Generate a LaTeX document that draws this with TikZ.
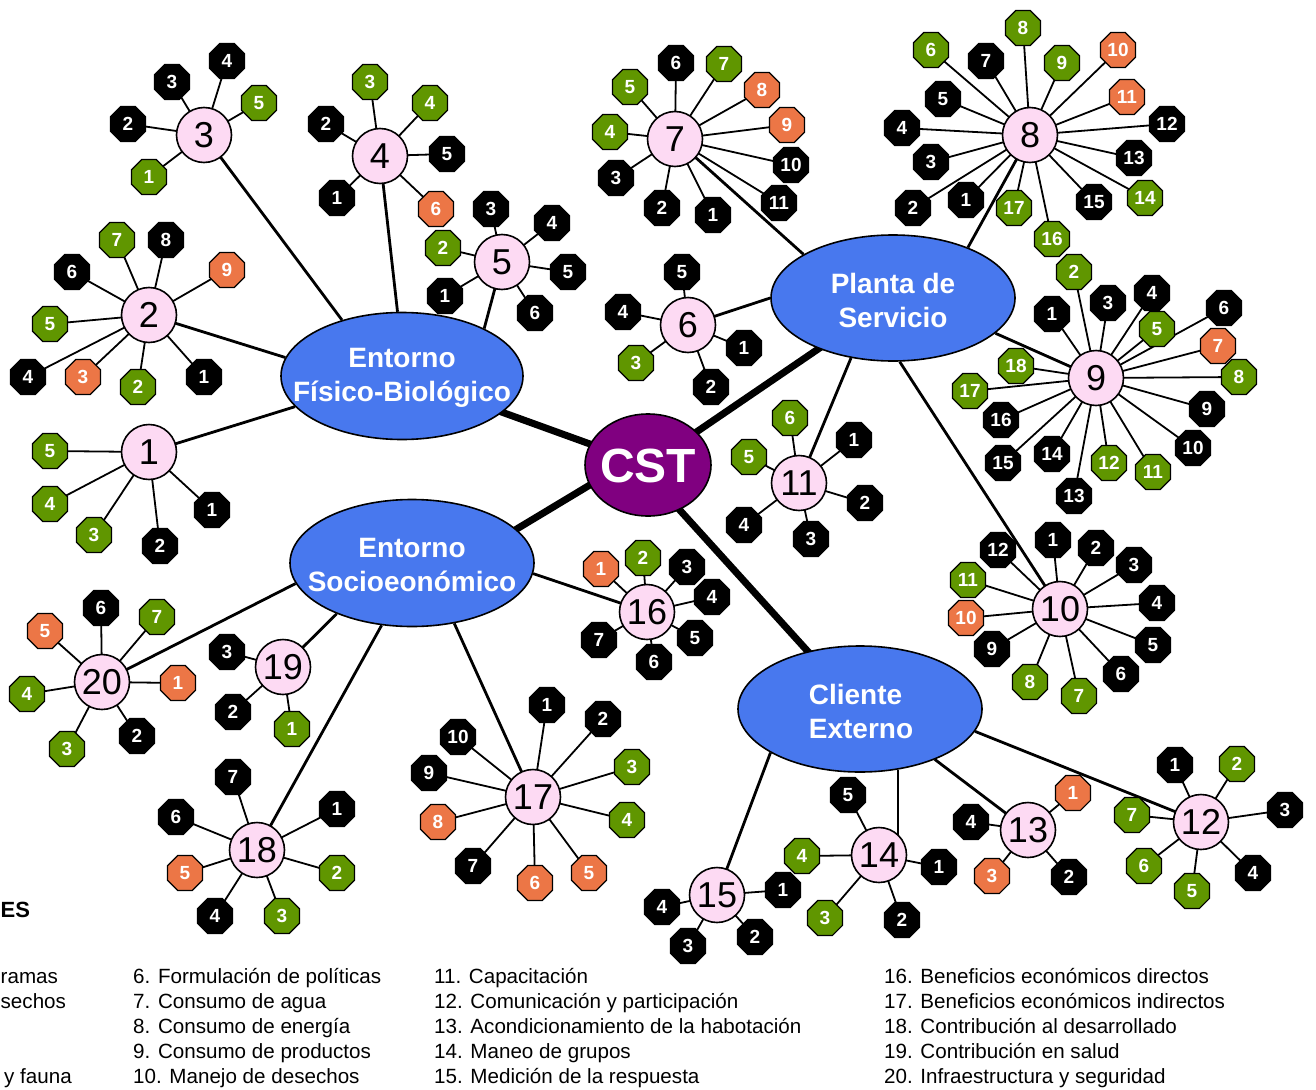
\documentclass[tikz,border=0pt]{standalone}
\usepackage{fontspec}
\setmainfont{Liberation Sans}
\usetikzlibrary{shapes.geometric,calc}
\pgfdeclarelayer{bg}
\pgfsetlayers{bg,main}
\definecolor{elblue}{RGB}{72,120,238}
\definecolor{leafgreen}{RGB}{96,150,0}
\definecolor{leaforange}{RGB}{236,118,70}
\definecolor{hubpink}{RGB}{253,218,243}
\definecolor{cstpurple}{RGB}{128,0,128}
\tikzset{
  oct/.style={regular polygon, regular polygon sides=8, minimum size=38, inner sep=0,
    draw=black, line width=1.2, text=white, font=\fontsize{19}{19}\selectfont\bfseries},
  octk/.style={oct, fill=black},
  octg/.style={oct, fill=leafgreen},
  octo/.style={oct, fill=leaforange},
  hub/.style={circle, draw=black, line width=1.6, fill=hubpink, minimum size=55, inner sep=0,
    font=\fontsize{36}{36}\selectfont},
  group/.style={ellipse, draw=black, line width=1.6, fill=elblue, inner sep=0},
  grouptext/.style={text=white, align=center, inner sep=0, font=\fontsize{28}{34}\selectfont\bfseries},
  spoke/.style={line width=1.8, black},
  link/.style={line width=2.8, black},
  heavy/.style={line width=7, black},
  legend/.style={font=\fontsize{20.6}{20.6}\selectfont, inner sep=0, anchor=base west},
}
\newcommand{\lf}[5]{%
  \node[#2] (#1-#5) at (#3,#4) {#5};
  \begin{pgfonlayer}{bg}\draw[spoke] (#1.center) -- (#1-#5.center);\end{pgfonlayer}%
}
\begin{document}
\begin{tikzpicture}[x=1pt,y=-1pt]
\useasboundingbox (0,0) rectangle (1316,1089);

% group ellipses
\node[group, minimum width=242, minimum height=127] (fb) at (402,376) {};
\node[grouptext] (fbt) at (402,378) {Entorno\\Físico-Biológico};
\node[group, minimum width=244, minimum height=126] (ps) at (893,298) {};
\node[grouptext] (pst) at (893,300) {Planta de\\Servicio};
\node[group, minimum width=244, minimum height=127] (se) at (412,563) {};
\node[grouptext] (set) at (412,565) {Entorno\\Socioeonómico};
\node[group, minimum width=244, minimum height=126] (ce) at (860,709) {};
\node[grouptext, align=left] (cet) at (861,711) {Cliente\\Externo};
\node[ellipse, draw=black, line width=1.6, fill=cstpurple, minimum width=126, minimum height=102,
  inner sep=0] (cst) at (648,465) {};
\node[text=white, inner sep=0, font=\fontsize{48}{48}\selectfont\bfseries] (cstt) at (648,466) {CST};

\begin{pgfonlayer}{bg}
\draw[heavy] (cst.center) -- (fb.center);
\draw[heavy] (cst.center) -- (ps.center);
\draw[heavy] ($(cst.center)+(0,-15)$) -- ($(se.center)+(0,29)$);
\draw[heavy] ($(cst.center)+(0,10)$) -- (ce.center);
\end{pgfonlayer}

% hubs
\node[hub] (h1) at (149,452) {1};
\node[hub] (h2) at (149,315) {2};
\node[hub] (h3) at (204,135) {3};
\node[hub] (h4) at (380,156) {4};
\node[hub] (h5) at (502,262) {5};
\node[hub] (h6) at (688,325) {6};
\node[hub] (h7) at (675,139) {7};
\node[hub] (h8) at (1030,135) {8};
\node[hub] (h9) at (1096,378) {9};
\node[hub] (h10) at (1060,609) {10};
\node[hub] (h11) at (799,483) {11};
\node[hub] (h12) at (1201,822) {12};
\node[hub] (h13) at (1028,830) {13};
\node[hub] (h14) at (879,855) {14};
\node[hub] (h15) at (717,895) {15};
\node[hub] (h16) at (647,612) {16};
\node[hub] (h17) at (533,797) {17};
\node[hub] (h18) at (257,850) {18};
\node[hub] (h19) at (283,667) {19};
\node[hub] (h20) at (102,682) {20};

\begin{pgfonlayer}{bg}
\draw[link] (h3.center) -- (fb.137);
\draw[link] (h4.center) -- (fb.94);
\draw[link] (h5.center) -- (fb.30);
\draw[link] (h2.center) -- (fb.171);
\draw[link] (h1.center) -- (fb.196);
\draw[link] (h7.center) -- (ps.154);
\draw[link] (h8.center) -- (ps.34);
\draw[link] (h9.center) -- (ps.341);
\draw[link] (h10.center) -- (ps.276);
\draw[link] (h6.center) -- (ps.180);
\draw[link] (h11.center) -- (ps.235);
\draw[link] (h16.center) -- (se.355);
\draw[link] (h17.center) -- (se.305);
\draw[link] (h18.center) -- (se.244);
\draw[link] (h19.center) -- (se.214);
\draw[link] (h20.center) -- (se.190);
\draw[link] (h15.center) -- (ce.206);
\draw[link] (ce.302) -- (ce.302 |- h14.center);
\draw[link] (h13.center) -- (ce.326);
\draw[link] (h12.center) -- (ce.349);
\end{pgfonlayer}

% leaves
\lf{h1}{octg}{50}{451}{5}
\lf{h1}{octg}{50}{504}{4}
\lf{h1}{octg}{94}{535}{3}
\lf{h1}{octk}{160}{546}{2}
\lf{h1}{octk}{212}{510}{1}

\lf{h2}{octg}{117}{240}{7}
\lf{h2}{octk}{166}{240}{8}
\lf{h2}{octk}{72}{272}{6}
\lf{h2}{octo}{227}{270}{9}
\lf{h2}{octg}{50}{324}{5}
\lf{h2}{octk}{28}{377}{4}
\lf{h2}{octo}{83}{377}{3}
\lf{h2}{octg}{138}{387}{2}
\lf{h2}{octk}{204}{377}{1}

\lf{h3}{octk}{172}{82}{3}
\lf{h3}{octk}{227}{61}{4}
\lf{h3}{octg}{259}{103}{5}
\lf{h3}{octk}{128}{124}{2}
\lf{h3}{octg}{149}{177}{1}

\lf{h4}{octg}{370}{82}{3}
\lf{h4}{octg}{430}{103}{4}
\lf{h4}{octk}{326}{124}{2}
\lf{h4}{octk}{447}{154}{5}
\lf{h4}{octk}{337}{198}{1}
\lf{h4}{octo}{436}{209}{6}

\lf{h5}{octk}{491}{209}{3}
\lf{h5}{octk}{552}{223}{4}
\lf{h5}{octg}{443}{248}{2}
\lf{h5}{octk}{568}{272}{5}
\lf{h5}{octk}{445}{296}{1}
\lf{h5}{octk}{535}{313}{6}

\lf{h6}{octk}{682}{272}{5}
\lf{h6}{octk}{623}{312}{4}
\lf{h6}{octk}{744}{348}{1}
\lf{h6}{octg}{636}{363}{3}
\lf{h6}{octk}{711}{387}{2}

\lf{h7}{octk}{676}{63}{6}
\lf{h7}{octg}{724}{64}{7}
\lf{h7}{octg}{630}{87}{5}
\lf{h7}{octo}{762}{90}{8}
\lf{h7}{octg}{610}{132}{4}
\lf{h7}{octo}{787}{125}{9}
\lf{h7}{octk}{791}{165}{10}
\lf{h7}{octk}{616}{178}{3}
\lf{h7}{octk}{779}{203}{11}
\lf{h7}{octk}{662}{208}{2}
\lf{h7}{octk}{713}{215}{1}

\lf{h8}{octg}{1023}{28}{8}
\lf{h8}{octg}{931}{50}{6}
\lf{h8}{octo}{1118}{50}{10}
\lf{h8}{octk}{986}{61}{7}
\lf{h8}{octg}{1062}{63}{9}
\lf{h8}{octk}{943}{99}{5}
\lf{h8}{octo}{1127}{97}{11}
\lf{h8}{octk}{902}{128}{4}
\lf{h8}{octk}{1167}{124}{12}
\lf{h8}{octk}{931}{162}{3}
\lf{h8}{octk}{1134}{158}{13}
\lf{h8}{octk}{913}{208}{2}
\lf{h8}{octk}{966}{200}{1}
\lf{h8}{octg}{1014}{208}{17}
\lf{h8}{octk}{1094}{202}{15}
\lf{h8}{octg}{1145}{198}{14}
\lf{h8}{octg}{1052}{239}{16}

\lf{h9}{octg}{1074}{272}{2}
\lf{h9}{octk}{1152}{293}{4}
\lf{h9}{octk}{1108}{303}{3}
\lf{h9}{octk}{1052}{314}{1}
\lf{h9}{octk}{1224}{308}{6}
\lf{h9}{octg}{1157}{329}{5}
\lf{h9}{octo}{1218}{346}{7}
\lf{h9}{octg}{1016}{366}{18}
\lf{h9}{octg}{1239}{377}{8}
\lf{h9}{octg}{970}{391}{17}
\lf{h9}{octk}{1207}{409}{9}
\lf{h9}{octk}{1001}{420}{16}
\lf{h9}{octk}{1193}{448}{10}
\lf{h9}{octk}{1052}{454}{14}
\lf{h9}{octk}{1003}{463}{15}
\lf{h9}{octg}{1109}{463}{12}
\lf{h9}{octg}{1153}{472}{11}
\lf{h9}{octk}{1074}{496}{13}

\lf{h10}{octk}{1053}{540}{1}
\lf{h10}{octk}{1096}{548}{2}
\lf{h10}{octk}{998}{550}{12}
\lf{h10}{octk}{1134}{565}{3}
\lf{h10}{octg}{968}{580}{11}
\lf{h10}{octk}{1157}{603}{4}
\lf{h10}{octo}{966}{618}{10}
\lf{h10}{octk}{1153}{645}{5}
\lf{h10}{octk}{992}{649}{9}
\lf{h10}{octk}{1121}{674}{6}
\lf{h10}{octg}{1030}{682}{8}
\lf{h10}{octg}{1079}{696}{7}

\lf{h11}{octg}{790}{418}{6}
\lf{h11}{octg}{749}{457}{5}
\lf{h11}{octk}{854}{440}{1}
\lf{h11}{octk}{865}{503}{2}
\lf{h11}{octk}{744}{525}{4}
\lf{h11}{octk}{811}{539}{3}

\lf{h12}{octk}{1175}{765}{1}
\lf{h12}{octg}{1237}{764}{2}
\lf{h12}{octk}{1285}{810}{3}
\lf{h12}{octg}{1132}{815}{7}
\lf{h12}{octg}{1144}{866}{6}
\lf{h12}{octk}{1253}{873}{4}
\lf{h12}{octg}{1192}{891}{5}

\lf{h13}{octo}{1073}{793}{1}
\lf{h13}{octk}{971}{822}{4}
\lf{h13}{octo}{992}{876}{3}
\lf{h13}{octk}{1069}{877}{2}

\lf{h14}{octk}{848}{795}{5}
\lf{h14}{octg}{802}{856}{4}
\lf{h14}{octk}{939}{867}{1}
\lf{h14}{octg}{825}{918}{3}
\lf{h14}{octk}{902}{920}{2}

\lf{h15}{octk}{783}{890}{1}
\lf{h15}{octk}{662}{907}{4}
\lf{h15}{octk}{755}{937}{2}
\lf{h15}{octk}{688}{946}{3}

\lf{h16}{octo}{601}{569}{1}
\lf{h16}{octg}{643}{558}{2}
\lf{h16}{octk}{687}{567}{3}
\lf{h16}{octk}{712}{597}{4}
\lf{h16}{octk}{695}{638}{5}
\lf{h16}{octk}{599}{640}{7}
\lf{h16}{octk}{654}{662}{6}

\lf{h17}{octk}{547}{705}{1}
\lf{h17}{octk}{603}{719}{2}
\lf{h17}{octk}{458}{737}{10}
\lf{h17}{octg}{632}{767}{3}
\lf{h17}{octk}{429}{773}{9}
\lf{h17}{octo}{438}{822}{8}
\lf{h17}{octg}{627}{820}{4}
\lf{h17}{octk}{473}{866}{7}
\lf{h17}{octo}{589}{873}{5}
\lf{h17}{octo}{535}{883}{6}

\lf{h18}{octk}{233}{777}{7}
\lf{h18}{octk}{176}{817}{6}
\lf{h18}{octk}{337}{809}{1}
\lf{h18}{octo}{185}{873}{5}
\lf{h18}{octg}{337}{873}{2}
\lf{h18}{octk}{215}{916}{4}
\lf{h18}{octg}{282}{916}{3}

\lf{h19}{octk}{227}{652}{3}
\lf{h19}{octk}{233}{712}{2}
\lf{h19}{octg}{292}{729}{1}

\lf{h20}{octk}{101}{608}{6}
\lf{h20}{octg}{157}{617}{7}
\lf{h20}{octo}{45}{631}{5}
\lf{h20}{octo}{178}{683}{1}
\lf{h20}{octg}{27}{694}{4}
\lf{h20}{octk}{137}{736}{2}
\lf{h20}{octg}{67}{749}{3}

% legend
\node[font=\fontsize{22}{22}\selectfont\bfseries, inner sep=0, anchor=base west] (lgt) at (0.5,917) {ES};
\node[legend, anchor=base west] (l1) at (0.5,983) {ramas};
\node[legend, anchor=base west] (l2) at (0.5,1008) {sechos};
\node[legend, anchor=base east] (l5) at (72,1083) {y fauna};

\node[legend] (l6) at (133,983) {6. Formulación de políticas};
\node[legend] (l7) at (133,1008) {7. Consumo de agua};
\node[legend] (l8) at (133,1033) {8. Consumo de energía};
\node[legend] (l9) at (133,1058) {9. Consumo de productos};
\node[legend] (l10) at (133,1083) {10. Manejo de desechos};

\node[legend] (l11) at (434,983) {11. Capacitación};
\node[legend] (l12) at (434,1008) {12. Comunicación y participación};
\node[legend] (l13) at (434,1033) {13. Acondicionamiento de la habotación};
\node[legend] (l14) at (434,1058) {14. Maneo de grupos};
\node[legend] (l15) at (434,1083) {15. Medición de la respuesta};

\node[legend] (l16) at (884,983) {16. Beneficios económicos directos};
\node[legend] (l17) at (884,1008) {17. Beneficios económicos indirectos};
\node[legend] (l18) at (884,1033) {18. Contribución al desarrollado};
\node[legend] (l19) at (884,1058) {19. Contribución en salud};
\node[legend] (l20) at (884,1083) {20. Infraestructura y seguridad};
\end{tikzpicture}
\end{document}
